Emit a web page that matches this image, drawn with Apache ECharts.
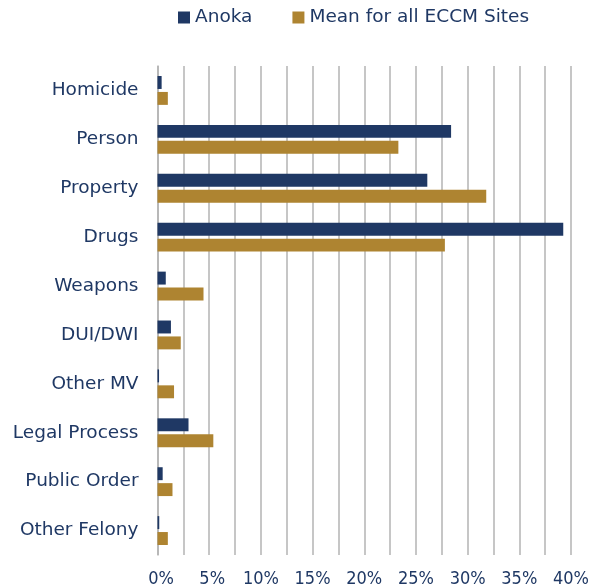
<!DOCTYPE html>
<html>
<head>
<meta charset="utf-8">
<script src="https://cdn.jsdelivr.net/npm/echarts@6/dist/echarts.min.js"></script>
<style>html,body{margin:0;padding:0;background:#fff;}#c{width:592px;height:588px;}</style>
</head>
<body>
<div id="c"></div>
<script>
const categories = ['Homicide','Person','Property','Drugs','Weapons','DUI/DWI','Other MV','Legal Process','Public Order','Other Felony'];
const anoka = [0.4, 28.4, 26.1, 39.25, 0.8, 1.3, 0.15, 3.0, 0.5, 0.17];
const meanAll = [1.0, 23.3, 31.8, 27.8, 4.45, 2.25, 1.6, 5.4, 1.45, 1.0];
const seriesNames = ['Anoka', 'Mean for all ECCM Sites'];
const NAVY = '#1f3864', GOLD = '#ae8431', TXT = '#1f3864';
const FONT = 'DejaVu Sans';
const NARROW = '"Liberation Sans Narrow", "DejaVu Sans Condensed", sans-serif';
const tickStyle = {color: TXT, fontSize: 18, fontFamily: NARROW};
const chart = echarts.init(document.getElementById('c'));
chart.setOption({
  animation: false,
  textStyle: {fontFamily: FONT},
  legend: {
    top: 3, left: 173,
    itemWidth: 12, itemHeight: 12, itemGap: 40,
    icon: 'rect',
    textStyle: {fontSize: 18.5, color: TXT, fontFamily: FONT},
    data: seriesNames
  },
  grid: {left: 157.5, right: 16.5, top: 66, bottom: 33, containLabel: false},
  xAxis: {
    type: 'value', min: 0, max: 40, interval: 2.5,
    axisLine: {show: false}, axisTick: {show: false},
    splitLine: {show: true, lineStyle: {color: '#b3b3b3', width: 1.5}},
    axisLabel: {
      color: TXT, fontSize: 18, fontFamily: NARROW, margin: 15,
      formatter: v => {
        if (Math.abs(v % 5) > 1e-9) return '';
        if (v === 0) return '{a|0%}';
        if (v === 5) return '{b|5%}';
        return v + '%';
      },
      rich: {
        a: Object.assign({padding: [0, 0, 0, 7]}, tickStyle),
        b: Object.assign({padding: [0, 0, 0, 6]}, tickStyle)
      }
    }
  },
  yAxis: {
    type: 'category', inverse: true, data: categories,
    axisLine: {show: true, lineStyle: {color: '#b3b3b3', width: 1.5}},
    axisTick: {show: false},
    axisLabel: {color: TXT, fontSize: 18.5, fontFamily: FONT, margin: 19}
  },
  series: [
    {name: seriesNames[0], type: 'bar', data: anoka, itemStyle: {color: NAVY},
     barGap: '23%', barCategoryGap: '41%'},
    {name: seriesNames[1], type: 'bar', data: meanAll, itemStyle: {color: GOLD},
     barGap: '23%', barCategoryGap: '41%'}
  ]
});
</script>
</body>
</html>
